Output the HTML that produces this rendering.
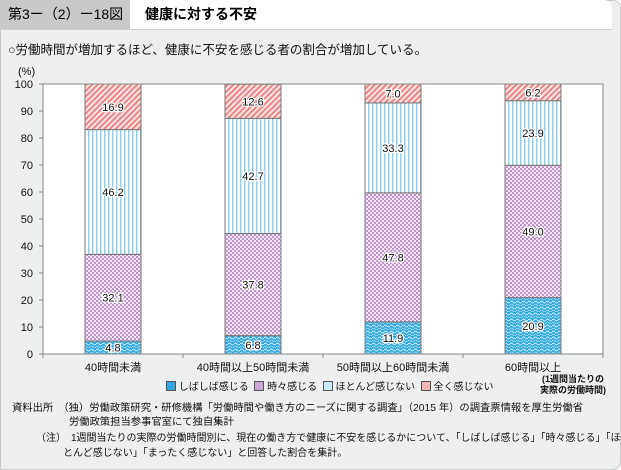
<!DOCTYPE html>
<html><head><meta charset="utf-8"><style>
body{margin:0;width:621px;height:470px;overflow:hidden;font-family:"Liberation Sans","Noto Sans CJK JP",sans-serif;background:#fff}
#panel{position:absolute;left:0;top:0;width:619px;height:468px;background:#eeefef;border:1px solid #c8c9ca;border-radius:0 8px 8px 0}
#hdr{position:absolute;left:0;top:0;width:612px;height:29px;background:#fff;border-bottom:1px solid #d0d0d0;border-radius:0 8px 0 0}
#tab{position:absolute;left:0;top:0;width:130px;height:29px;background:#c8c9ca;font-size:14px;line-height:29px;padding-left:8px;box-sizing:border-box}
#ttl{position:absolute;left:145px;top:0;font-size:14px;line-height:29px;font-weight:bold}
.t{position:absolute;font-size:12px;color:#111;white-space:nowrap}
</style></head><body>
<div id="panel"></div>
<div id="hdr"></div>
<div id="tab">第3ー（2）ー18図</div>
<div id="ttl">健康に対する不安</div>
<div class="t" style="left:8px;top:39px;font-size:12.5px">○労働時間が増加するほど、健康に不安を感じる者の割合が増加している。</div>
<svg id="chart" width="621" height="470" style="position:absolute;left:0;top:0">
<defs>
<pattern id="pBlue" width="6" height="6" patternUnits="userSpaceOnUse"><rect width="6" height="6" fill="#2ea7e0"/><path d="M0 2 Q1.5 0 3 2 T6 2" stroke="#d8f0fb" stroke-width="1" fill="none"/><path d="M0 5 Q1.5 3 3 5 T6 5" stroke="#b6e2f6" stroke-width="0.8" fill="none"/></pattern>
<pattern id="pPurple" width="4" height="4" patternUnits="userSpaceOnUse"><rect width="4" height="4" fill="#f4eaf7"/><circle cx="1" cy="1" r="1.1" fill="#b98ccb"/><circle cx="3" cy="3" r="1.1" fill="#b98ccb"/></pattern>
<pattern id="pLBlue" width="4" height="4" patternUnits="userSpaceOnUse"><rect width="4" height="4" fill="#fff"/><rect x="0" width="1.5" height="4" fill="#8fcff0"/></pattern>
<pattern id="pRed" width="4" height="4" patternUnits="userSpaceOnUse" patternTransform="rotate(45)"><rect width="4" height="4" fill="#fbe3e3"/><rect width="1.8" height="4" fill="#ec7d7d"/></pattern>
</defs>
<g id="g"></g>
</svg>
<div class="t" style="left:18px;top:66px;font-size:11px">(%)</div>
<div class="t" style="left:166px;top:378px;font-size:10px">
<span><span style="display:inline-block;width:8px;height:8px;background:#2ea7e0;border:1px solid #555;vertical-align:-1px"></span> しばしば感じる</span>&nbsp;
<span><span style="display:inline-block;width:8px;height:8px;background:#c9a7d6;border:1px solid #555;vertical-align:-1px"></span> 時々感じる</span>&nbsp;
<span><span style="display:inline-block;width:8px;height:8px;background:#cfeaf8;border:1px solid #555;vertical-align:-1px"></span> ほとんど感じない</span>&nbsp;
<span><span style="display:inline-block;width:8px;height:8px;background:#f4b5b5;border:1px solid #555;vertical-align:-1px"></span> 全く感じない</span></div>
<div class="t" style="left:540px;top:374px;font-size:9px;line-height:11px;text-align:center;font-weight:bold">(1週間当たりの<br>実際の労働時間)</div>
<div class="t" style="left:12px;top:402px;font-size:10.3px;line-height:14px">資料出所　（独）労働政策研究・研修機構「労働時間や働き方のニーズに関する調査」（2015 年）の調査票情報を厚生労働省<br><span style="padding-left:57px">労働政策担当参事官室にて独自集計</span></div>
<div class="t" style="left:36px;top:431px;font-size:10px;line-height:15px">（注）　1週間当たりの実際の労働時間別に、現在の働き方で健康に不安を感じるかについて、「しばしば感じる」「時々感じる」「ほ<br><span style="padding-left:27px">とんど感じない」「まったく感じない」と回答した割合を集計。</span></div>
<script>
const categories=["40時間未満","40時間以上50時間未満","50時間以上60時間未満","60時間以上"];
const often=[4.8,6.8,11.9,20.9];
const sometimes=[32.1,37.8,47.8,49.0];
const rarely=[46.2,42.7,33.3,23.9];
const never=[16.9,12.6,7.0,6.2];
const yTicks=[0,10,20,30,40,50,60,70,80,90,100];
const X0=43,X1=603,Y0=354,Y1=84,BW=56;
const y=v=>Y0-(Y0-Y1)*v/100;
const xc=i=>X0+(X1-X0)/categories.length*(i+0.5);
const g=document.getElementById('g');
const NS='http://www.w3.org/2000/svg';
function mk(t,a){const e=document.createElementNS(NS,t);for(const k in a)e.setAttribute(k,a[k]);g.appendChild(e);return e;}
let e=mk('rect',{x:X0,y:Y1,width:X1-X0,height:Y0-Y1,fill:'#fff'});


yTicks.forEach(v=>{
 let l=mk('line',{x1:X0-4,x2:X0,y1:y(v),y2:y(v),stroke:'#888'});
 
 
 let t=mk('text',{x:X0-10,y:y(v)+4,'text-anchor':'end','font-size':11,fill:'#111'});t.textContent=v;
 
 
});
const series=[[often,'url(#pBlue)','often'],[sometimes,'url(#pPurple)','sometimes'],[rarely,'url(#pLBlue)','rarely'],[never,'url(#pRed)','never']];
categories.forEach((c,i)=>{
 let cum=0;
 series.forEach(([arr,fill,nm])=>{
  const v=arr[i];
  let r=mk('rect',{x:xc(i)-BW/2,y:y(cum+v),width:BW,height:y(cum)-y(cum+v),fill:fill,stroke:'#777','stroke-width':1});
  
  
  let t=mk('text',{x:xc(i),y:(y(cum)+y(cum+v))/2+4,'text-anchor':'middle','font-size':11,fill:'#111',stroke:'#fff','stroke-width':2.5,'paint-order':'stroke'});
  t.textContent=v.toFixed(1);
  
  
  cum+=v;
 });
 let t=mk('text',{x:xc(i),y:371,'text-anchor':'middle','font-size':11,fill:'#111'});t.textContent=c;
 
 
});
for(let i=0;i<=categories.length;i++){
 let l=mk('line',{x1:X0+(X1-X0)/categories.length*i,x2:X0+(X1-X0)/categories.length*i,y1:Y0,y2:Y0+4,stroke:'#888'});
 
 
}
mk('path',{d:`M${X0} ${Y1}V${Y0}H${X1}V${Y1}H${X0}`,fill:'none',stroke:'#888'});
</script>
</body></html>
